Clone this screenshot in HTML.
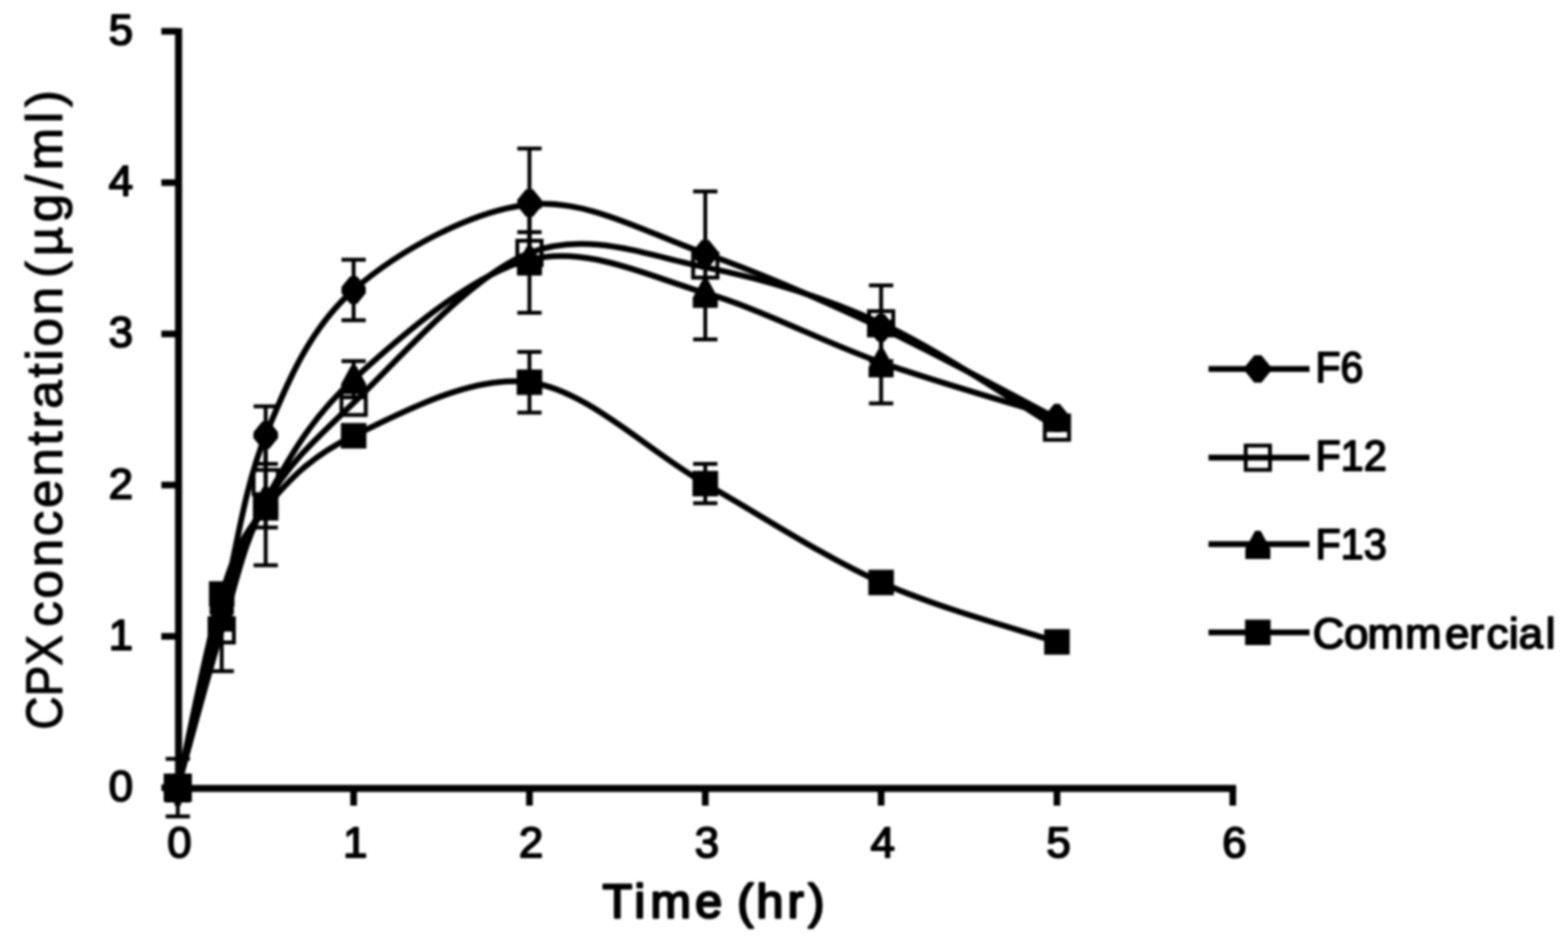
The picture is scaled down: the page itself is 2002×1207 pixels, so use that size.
<!DOCTYPE html>
<html><head><meta charset="utf-8"><title>CPX concentration chart</title>
<style>html,body{margin:0;padding:0;background:#fff;overflow:hidden;}svg{display:block;}</style>
</head><body>
<svg width="2002" height="1207" viewBox="0 0 2002 1207"><defs><filter id="b" filterUnits="userSpaceOnUse" x="0" y="0" width="2002" height="1207"><feGaussianBlur stdDeviation="1.60"/></filter></defs><rect width="2002" height="1207" fill="#fff"/><g filter="url(#b)">
<g stroke="#000" fill="none" stroke-linecap="butt">
<path stroke-width="9.0" d="M228.0,36 V1011.5"/>
<path stroke-width="9.0" d="M223.5,1007.0 H1578.2"/>
<path stroke-width="8.5" d="M206,1006.0 H227.0 M206,812.8 H227.0 M206,619.6 H227.0 M206,426.4 H227.0 M206,233.2 H227.0 M206,40.0 H227.0 M227.0,1006.0 V1029 M451.5,1006.0 V1029 M676.0,1006.0 V1029 M900.5,1006.0 V1029 M1125.0,1006.0 V1029 M1349.5,1006.0 V1029 M1574.0,1006.0 V1029"/>
</g>
<g font-family="Liberation Sans, sans-serif" font-size="56" fill="#000" stroke="#000" stroke-width="2.20" stroke-linejoin="round">
<text x="170" y="1023.0" text-anchor="end">0</text>
<text x="170" y="829.8" text-anchor="end">1</text>
<text x="170" y="636.6" text-anchor="end">2</text>
<text x="170" y="443.4" text-anchor="end">3</text>
<text x="170" y="250.2" text-anchor="end">4</text>
<text x="170" y="57.0" text-anchor="end">5</text>
<text x="229.0" y="1094.5" text-anchor="middle">0</text>
<text x="453.5" y="1094.5" text-anchor="middle">1</text>
<text x="678.0" y="1094.5" text-anchor="middle">2</text>
<text x="902.5" y="1094.5" text-anchor="middle">3</text>
<text x="1127.0" y="1094.5" text-anchor="middle">4</text>
<text x="1351.5" y="1094.5" text-anchor="middle">5</text>
<text x="1576.0" y="1094.5" text-anchor="middle">6</text>
</g>
<g font-family="Liberation Sans, sans-serif" fill="#000" stroke="#000" stroke-width="1.50" stroke-linejoin="round">
<text font-size="65" transform="translate(78.5,932.0) rotate(-90)" textLength="121.0" lengthAdjust="spacingAndGlyphs">CPX</text>
<text font-size="65" transform="translate(78.5,800.5) rotate(-90)" textLength="434.0" lengthAdjust="spacing">concentration</text>
<text font-size="65" transform="translate(78.5,355.0) rotate(-90)" textLength="240.0" lengthAdjust="spacing">(µg/ml)</text>
</g>
<g font-family="Liberation Sans, sans-serif" fill="#000" stroke="#000" stroke-width="3.00" stroke-linejoin="round" font-size="62">
<text x="769.3 809.9 830.4 887.4 925.0 941.3 965.7 1005.4 1031.9" y="1171.5">Time (hr)</text>
</g>
<g fill="none" stroke="#000" stroke-width="7.5" stroke-linejoin="round">
<path d="M227.0,1006.0 C236.4,968.3 264.4,855.0 283.1,780.0 C301.8,704.9 311.2,624.1 339.2,555.8 C367.3,487.6 395.4,419.5 451.5,370.4 C507.6,321.3 601.2,268.9 676.0,261.2 C750.8,253.5 825.7,297.8 900.5,324.0 C975.3,350.2 1050.2,383.6 1125.0,418.7 C1199.8,453.8 1312.1,515.3 1349.5,534.6"/>
<path d="M227.0,1006.0 C236.4,972.5 264.4,865.6 283.1,805.1 C301.8,744.5 311.2,691.2 339.2,642.8 C367.3,594.4 395.4,567.8 451.5,514.5 C507.6,461.2 601.2,351.9 676.0,323.0 C750.8,294.2 825.7,326.4 900.5,341.4 C975.3,356.4 1050.2,378.7 1125.0,412.9 C1199.8,447.0 1312.1,524.0 1349.5,546.2"/>
<path d="M227.0,1006.0 C236.4,969.6 264.4,848.9 283.1,787.7 C301.8,726.5 311.2,689.5 339.2,638.9 C367.3,588.4 395.4,535.6 451.5,484.4 C507.6,433.2 601.2,350.1 676.0,331.7 C750.8,313.4 825.7,352.3 900.5,374.2 C975.3,396.1 1050.2,436.7 1125.0,463.1 C1199.8,489.5 1312.1,521.1 1349.5,532.7"/>
<path d="M227.0,1006.0 C236.4,964.8 264.4,818.3 283.1,758.7 C301.8,699.1 311.2,682.3 339.2,648.6 C367.3,614.9 395.4,583.3 451.5,556.6 C507.6,529.9 601.2,478.0 676.0,488.2 C750.8,498.4 825.7,575.0 900.5,617.7 C975.3,660.3 1050.2,710.3 1125.0,744.0 C1199.8,777.7 1312.1,807.3 1349.5,819.9"/>
</g>
<path d="M211.5,969.3 H242.5 M211.5,1042.7 H242.5" stroke="#000" stroke-width="5.0" fill="none"/>
<path d="M323.8,519.1 H354.8 M323.8,592.6 H354.8" stroke="#000" stroke-width="5.0" fill="none"/>
<path d="M436.0,331.7 H467.0 M436.0,409.0 H467.0" stroke="#000" stroke-width="5.0" fill="none"/>
<path d="M660.5,189.7 H691.5 M660.5,328.8 H691.5" stroke="#000" stroke-width="5.0" fill="none"/>
<path d="M227.0,969.3 V1042.7 M339.2,519.1 V592.6 M451.5,331.7 V409.0 M676.0,189.7 V328.8" stroke="#000" stroke-width="5.0" fill="none"/>
<path d="M222.5,988.5 L231.5,988.5 L242.5,1002.0 L242.5,1010.0 L231.5,1023.5 L222.5,1023.5 L211.5,1010.0 L211.5,1002.0 Z"/>
<path d="M278.6,762.5 L287.6,762.5 L298.6,776.0 L298.6,784.0 L287.6,797.5 L278.6,797.5 L267.6,784.0 L267.6,776.0 Z"/>
<path d="M334.8,538.3 L343.8,538.3 L354.8,551.8 L354.8,559.8 L343.8,573.3 L334.8,573.3 L323.8,559.8 L323.8,551.8 Z"/>
<path d="M447.0,352.9 L456.0,352.9 L467.0,366.4 L467.0,374.4 L456.0,387.9 L447.0,387.9 L436.0,374.4 L436.0,366.4 Z"/>
<path d="M671.5,241.8 L680.5,241.8 L691.5,255.3 L691.5,263.3 L680.5,276.8 L671.5,276.8 L660.5,263.3 L660.5,255.3 Z"/>
<path d="M896.0,306.5 L905.0,306.5 L916.0,320.0 L916.0,328.0 L905.0,341.5 L896.0,341.5 L885.0,328.0 L885.0,320.0 Z"/>
<path d="M1120.5,401.2 L1129.5,401.2 L1140.5,414.7 L1140.5,422.7 L1129.5,436.2 L1120.5,436.2 L1109.5,422.7 L1109.5,414.7 Z"/>
<path d="M1345.0,517.1 L1354.0,517.1 L1365.0,530.6 L1365.0,538.6 L1354.0,552.1 L1345.0,552.1 L1334.0,538.6 L1334.0,530.6 Z"/>
<path d="M267.6,752.9 H298.6 M267.6,857.2 H298.6" stroke="#000" stroke-width="5.0" fill="none"/>
<path d="M323.8,557.8 H354.8 M323.8,673.7 H354.8" stroke="#000" stroke-width="5.0" fill="none"/>
<path d="M660.5,296.6 H691.5 M660.5,349.5 H691.5" stroke="#000" stroke-width="5.0" fill="none"/>
<path d="M885.0,244.6 H916.0 M885.0,433.5 H916.0" stroke="#000" stroke-width="5.0" fill="none"/>
<path d="M1109.5,364.6 H1140.5 M1109.5,461.2 H1140.5" stroke="#000" stroke-width="5.0" fill="none"/>
<path d="M283.1,752.9 V857.2 M339.2,557.8 V673.7 M676.0,296.6 V349.5 M900.5,244.6 V433.5 M1125.0,364.6 V461.2" stroke="#000" stroke-width="5.0" fill="none"/>
<rect x="211.5" y="990.5" width="31.0" height="31.0" fill="none" stroke="#000" stroke-width="5"/>
<rect x="267.6" y="789.6" width="31.0" height="31.0" fill="none" stroke="#000" stroke-width="5"/>
<rect x="323.8" y="600.2" width="31.0" height="31.0" fill="none" stroke="#000" stroke-width="5"/>
<rect x="436.0" y="499.0" width="31.0" height="31.0" fill="none" stroke="#000" stroke-width="5"/>
<rect x="660.5" y="307.5" width="31.0" height="31.0" fill="none" stroke="#000" stroke-width="5"/>
<rect x="885.0" y="323.6" width="31.0" height="31.0" fill="none" stroke="#000" stroke-width="5"/>
<rect x="1109.5" y="397.4" width="31.0" height="31.0" fill="none" stroke="#000" stroke-width="5"/>
<rect x="1334.0" y="530.7" width="31.0" height="31.0" fill="none" stroke="#000" stroke-width="5"/>
<path d="M323.8,555.8 H354.8 M323.8,722.0 H354.8" stroke="#000" stroke-width="5.0" fill="none"/>
<path d="M436.0,461.2 H467.0 M436.0,507.5 H467.0" stroke="#000" stroke-width="5.0" fill="none"/>
<path d="M660.5,264.1 H691.5 M660.5,399.4 H691.5" stroke="#000" stroke-width="5.0" fill="none"/>
<path d="M1109.5,410.9 H1140.5 M1109.5,515.3 H1140.5" stroke="#000" stroke-width="5.0" fill="none"/>
<path d="M339.2,555.8 V722.0 M451.5,461.2 V507.5 M676.0,264.1 V399.4 M1125.0,410.9 V515.3" stroke="#000" stroke-width="5.0" fill="none"/>
<path d="M223.5,989.0 L230.5,989.0 L243.0,1012.0 L243.0,1025.0 L211.0,1025.0 L211.0,1012.0 Z"/>
<path d="M279.6,770.7 L286.6,770.7 L299.1,793.7 L299.1,806.7 L267.1,806.7 L267.1,793.7 Z"/>
<path d="M335.8,621.9 L342.8,621.9 L355.2,644.9 L355.2,657.9 L323.2,657.9 L323.2,644.9 Z"/>
<path d="M448.0,467.4 L455.0,467.4 L467.5,490.4 L467.5,503.4 L435.5,503.4 L435.5,490.4 Z"/>
<path d="M672.5,314.7 L679.5,314.7 L692.0,337.7 L692.0,350.7 L660.0,350.7 L660.0,337.7 Z"/>
<path d="M897.0,357.2 L904.0,357.2 L916.5,380.2 L916.5,393.2 L884.5,393.2 L884.5,380.2 Z"/>
<path d="M1121.5,446.1 L1128.5,446.1 L1141.0,469.1 L1141.0,482.1 L1109.0,482.1 L1109.0,469.1 Z"/>
<path d="M1346.0,515.7 L1353.0,515.7 L1365.5,538.7 L1365.5,551.7 L1333.5,551.7 L1333.5,538.7 Z"/>
<path d="M660.5,449.6 H691.5 M660.5,526.9 H691.5" stroke="#000" stroke-width="5.0" fill="none"/>
<path d="M885.0,592.6 H916.0 M885.0,642.8 H916.0" stroke="#000" stroke-width="5.0" fill="none"/>
<path d="M676.0,449.6 V526.9 M900.5,592.6 V642.8" stroke="#000" stroke-width="5.0" fill="none"/>
<rect x="210.7" y="989.7" width="32.6" height="32.6"/>
<rect x="266.8" y="742.4" width="32.6" height="32.6"/>
<rect x="322.9" y="632.3" width="32.6" height="32.6"/>
<rect x="435.2" y="540.3" width="32.6" height="32.6"/>
<rect x="659.7" y="471.9" width="32.6" height="32.6"/>
<rect x="884.2" y="601.4" width="32.6" height="32.6"/>
<rect x="1108.7" y="727.7" width="32.6" height="32.6"/>
<rect x="1333.2" y="803.6" width="32.6" height="32.6"/>
<path d="M1543,471.3 H1672" stroke="#000" stroke-width="7.5"/>
<path d="M1601.5,453.8 L1610.5,453.8 L1621.5,467.3 L1621.5,475.3 L1610.5,488.8 L1601.5,488.8 L1590.5,475.3 L1590.5,467.3 Z"/>
<text font-family="Liberation Sans, sans-serif" stroke="#000" stroke-width="2.20" stroke-linejoin="round" font-size="56" x="1679.5" y="488.0" textLength="61.0" lengthAdjust="spacingAndGlyphs">F6</text>
<path d="M1543,584.6 H1672" stroke="#000" stroke-width="7.5"/>
<rect x="1590.5" y="569.1" width="31.0" height="31.0" fill="none" stroke="#000" stroke-width="5"/>
<text font-family="Liberation Sans, sans-serif" stroke="#000" stroke-width="2.20" stroke-linejoin="round" font-size="56" x="1679.5" y="601.0" textLength="91.0" lengthAdjust="spacingAndGlyphs">F12</text>
<path d="M1543,695.0 H1672" stroke="#000" stroke-width="7.5"/>
<path d="M1602.5,678.0 L1609.5,678.0 L1622.0,701.0 L1622.0,714.0 L1590.0,714.0 L1590.0,701.0 Z"/>
<text font-family="Liberation Sans, sans-serif" stroke="#000" stroke-width="2.20" stroke-linejoin="round" font-size="56" x="1679.5" y="714.0" textLength="91.0" lengthAdjust="spacingAndGlyphs">F13</text>
<path d="M1543,807.7 H1672" stroke="#000" stroke-width="7.5"/>
<rect x="1589.7" y="791.4" width="32.6" height="32.6"/>
<text font-family="Liberation Sans, sans-serif" stroke="#000" stroke-width="2.20" stroke-linejoin="round" font-size="56" x="1676.0 1716.0 1746.0 1794.0 1845.0 1876.0 1898.0 1926.5 1939.0 1973.5" y="827.5">Commercial</text>
</g></svg>
</body></html>
